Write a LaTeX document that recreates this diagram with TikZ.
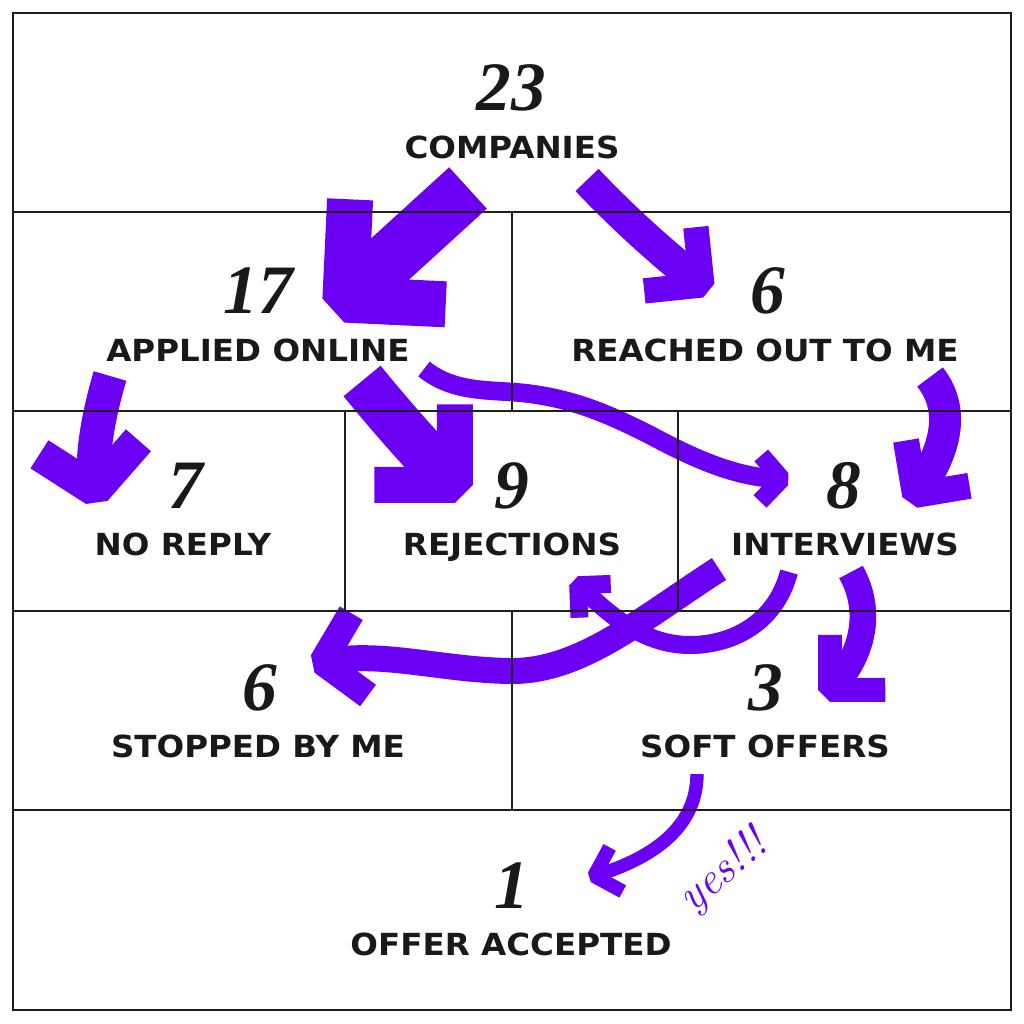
\documentclass[tikz,border=0pt]{standalone}
\usepackage{fontspec}
\usetikzlibrary{decorations.markings}
\newfontfamily\labelfont{DejaVu Sans}[FakeStretch=1.07]
\newfontfamily\numfont{Liberation Serif}
\definecolor{brushcol}{RGB}{108,0,245}
\definecolor{gridcol}{RGB}{30,30,30}
\tikzset{
  num/.style={font=\numfont\bfseries\itshape\fontsize{52}{52}\selectfont, anchor=base, inner sep=0pt, text=black!90},
  lab/.style={font=\labelfont\bfseries\fontsize{22.8}{27}\selectfont, anchor=base, inner sep=0pt, text=black!90},
  gridline/.style={line width=1pt, draw=gridcol},
  hand/.style={font=\itshape\fontsize{34}{34}\selectfont, text=brushcol, inner sep=0pt},
  brush/.style args={#1/#2/#3/#4}{draw=brushcol, line cap=butt, line width=#1,
    postaction={decorate, decoration={markings, mark=at position 0.999 with {
      \draw[brushcol, line width=#4, line join=bevel, line cap=butt] (-#2,#3) -- (0,0) -- (-#2,-#3);}}}}
}
\begin{document}
\begin{tikzpicture}[x=0.75pt, y=-0.75pt]
\fill[white] (0,0) rectangle (1024,1024);
\useasboundingbox (0,0) rectangle (1024,1024);

% arrow end points
\coordinate (a1s) at (468,188); \coordinate (a1e) at (345,300);
\coordinate (a2s) at (587,180); \coordinate (a2e) at (702,285);
\coordinate (a3s) at (110,376); \coordinate (a3e) at (95,490);
\coordinate (a4s) at (362,381); \coordinate (a4e) at (455,485);
\coordinate (a5s) at (424,369); \coordinate (a5e) at (782,479);
\coordinate (a6s) at (930,377); \coordinate (a6e) at (915,495);
\coordinate (a7s) at (719,569); \coordinate (a7e) at (322,662);
\coordinate (a8s) at (789,572); \coordinate (a8e) at (578,585);
\coordinate (a9s) at (851,572); \coordinate (a9e) at (830,690);
\coordinate (a10s) at (697,774); \coordinate (a10e) at (594,876);

% arrows
\draw[brush={42pt/71/71/34.5pt}] (a1s) -- (a1e);
\draw[brush={24pt/41/41/19pt}] (a2s) .. controls (630,225) and (665,255) .. (a2e);
\draw[brush={25.5pt/43/50/25pt}] (a3s) .. controls (100,410) and (90,455) .. (a3e);
\draw[brush={36pt/57/57/27pt}] (a4s) .. controls (390,415) and (420,450) .. (a4e);
\draw[brush={14pt/21/23/13.5pt}] (a5s) .. controls (450,390) and (480,390) .. (512,392)
   .. controls (570,396) and (610,415) .. (650,435) .. controls (700,462) and (740,478) .. (a5e);
\draw[brush={24pt/39/39/19.5pt}] (a6s) .. controls (960,415) and (940,460) .. (a6e);
\draw[brush={13.5pt/23/23/13.5pt}] (a8s) .. controls (775,625) and (730,645) .. (690,645)
   .. controls (640,645) and (605,610) .. (a8e);
\draw[brush={19.5pt/38/42/20pt}] (a7s) .. controls (640,620) and (580,672) .. (510,671)
   .. controls (440,670) and (380,650) .. (a7e);
\draw[brush={20pt/39/39/18pt}] (a9s) .. controls (875,615) and (860,660) .. (a9e);
\draw[brush={10pt/23/23/10.5pt}] (a10s) .. controls (697,830) and (648,860) .. (a10e);

% grid
\draw[gridline] (13,13) rectangle (1011,1010);
\draw[gridline] (13,212) -- (1011,212);
\draw[gridline] (13,411) -- (1011,411);
\draw[gridline] (13,611) -- (1011,611);
\draw[gridline] (13,810) -- (1011,810);
\draw[gridline] (512,212) -- (512,411);
\draw[gridline] (345,411) -- (345,611);
\draw[gridline] (678,411) -- (678,611);
\draw[gridline] (512,611) -- (512,810);

% texts
\node[num] (n23) at (511,110) {23};
\node[lab] (l23) at (512,158) {COMPANIES};
\node[num] (n17) at (258,313) {17};
\node[lab] (l17) at (258,361) {APPLIED ONLINE};
\node[num] (n6a) at (768,313) {6};
\node[lab] (l6a) at (765,361) {REACHED OUT TO ME};
\node[num] (n7) at (186,508) {7};
\node[lab] (l7) at (183,555) {NO REPLY};
\node[num] (n9) at (512,508) {9};
\node[lab] (l9) at (512,555) {REJECTIONS};
\node[num] (n8) at (844,508) {8};
\node[lab] (l8) at (845,555) {INTERVIEWS};
\node[num] (n6b) at (260,710) {6};
\node[lab] (l6b) at (258,757) {STOPPED BY ME};
\node[num] (n3) at (766,710) {3};
\node[lab] (l3) at (765,757) {SOFT OFFERS};
\node[num] (n1) at (512,908) {1};
\node[lab] (l1) at (511,955) {OFFER ACCEPTED};
\node[hand, rotate=40] (yes) at (724,872) {yes!!!};
\end{tikzpicture}
\end{document}
